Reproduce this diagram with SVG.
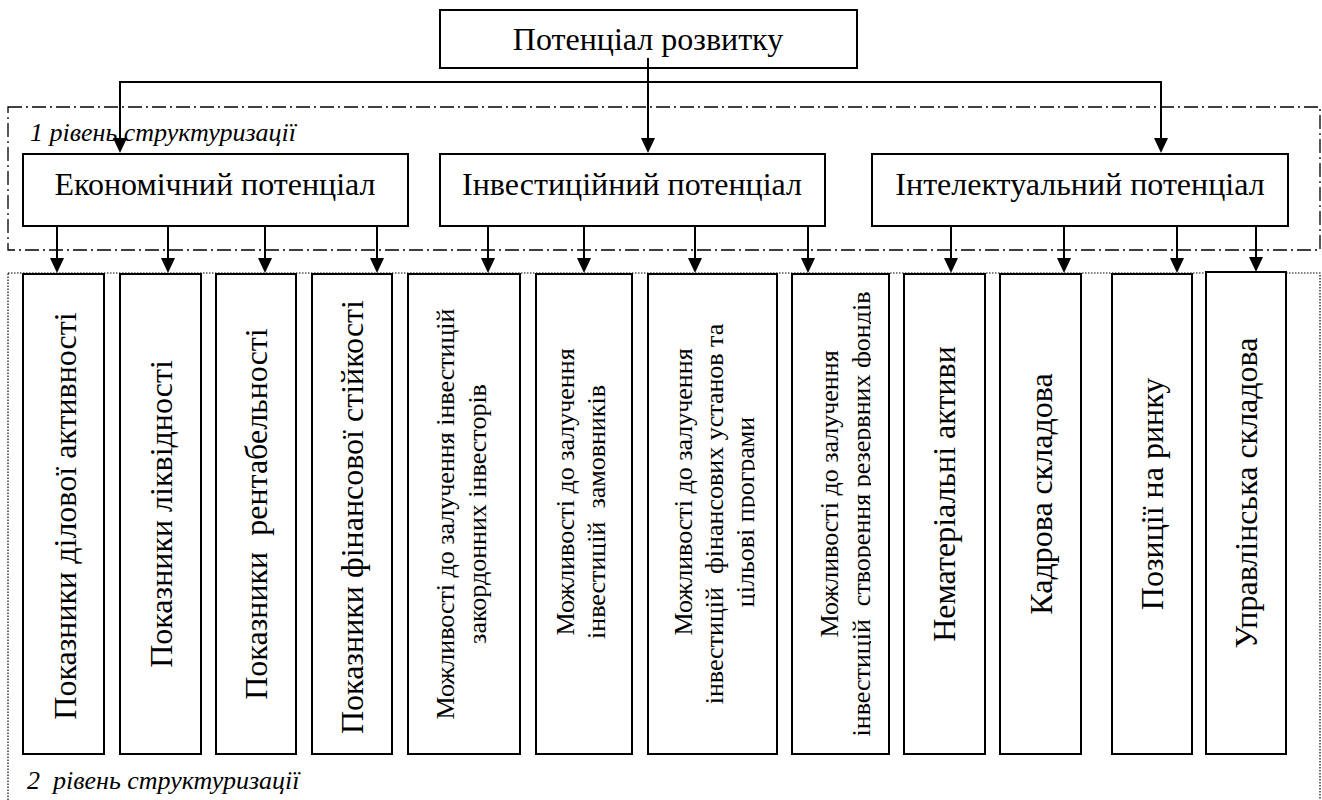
<svg xmlns="http://www.w3.org/2000/svg" width="1322" height="800" viewBox="0 0 1322 800">
<defs>
<marker id="ah" markerUnits="userSpaceOnUse" markerWidth="16" markerHeight="14" refX="5" refY="7" orient="auto" viewBox="0 0 16 14"><path d="M0,0 L15,7 L0,14 z" fill="#000"/></marker>
<clipPath id="c6"><rect x="536" y="274" width="70" height="480"/></clipPath>
<clipPath id="c7"><rect x="648" y="274" width="107" height="480"/></clipPath>
<clipPath id="c8"><rect x="792" y="274" width="79" height="480"/></clipPath>
</defs>
<style>
.box{fill:#fff;stroke:#000;stroke-width:2}
.conn{stroke:#000;stroke-width:2;fill:none}
.frame1{fill:none;stroke:#000;stroke-width:1.3;stroke-dasharray:14 4 2 4}
.frame2{fill:none;stroke:#000;stroke-width:1.2;stroke-dasharray:1.5 1.5}
</style>
<g id="frames">
<rect class="frame1" x="8" y="107" width="1312" height="143"/>
<rect class="frame2" x="8" y="273" width="1312" height="540"/>
</g>
<g id="labels" font-family="Liberation Serif, serif" font-size="26" font-style="italic" fill="#000">
<text x="30" y="141">1 рівень структуризації</text>
<text x="27" y="789" xml:space="preserve">2  рівень структуризації</text>
</g>
<g id="nodes" font-family="Liberation Serif, serif" fill="#000" text-anchor="middle">
<g id="root">
<rect class="box" x="440" y="10" width="417" height="58"/>
<text x="648" y="50" font-size="32">Потенціал розвитку</text>
</g>
<g id="econ">
<rect class="box" x="23" y="154" width="385" height="72"/>
<text x="215" y="195" font-size="32">Економічний потенціал</text>
</g>
<g id="invest">
<rect class="box" x="440" y="154" width="385" height="72"/>
<text x="632" y="195" font-size="32">Інвестиційний потенціал</text>
</g>
<g id="intel">
<rect class="box" x="872" y="154" width="416" height="72"/>
<text x="1080" y="195" font-size="32">Інтелектуальний потенціал</text>
</g>
<g id="b1"><rect class="box" x="23" y="274" width="81" height="480"/>
<text font-size="32" transform="translate(75.5,516) rotate(-90)">Показники ділової активності</text></g>
<g id="b2"><rect class="box" x="120" y="274" width="81" height="480"/>
<text font-size="32" transform="translate(172,514) rotate(-90)">Показники ліквідності</text></g>
<g id="b3"><rect class="box" x="216" y="274" width="80" height="480"/>
<text font-size="32" xml:space="preserve" transform="translate(267,514) rotate(-90)">Показники  рентабельності</text></g>
<g id="b4"><rect class="box" x="312" y="274" width="80" height="480"/>
<text font-size="32" transform="translate(363,517) rotate(-90)">Показники фінансової стійкості</text></g>
<g id="b5"><rect class="box" x="408" y="274" width="112" height="480"/>
<text font-size="26" transform="translate(454,514) rotate(-90)">Можливості до залучення інвестицій</text>
<text font-size="26" transform="translate(486,514) rotate(-90)">закордонних інвесторів</text></g>
<g id="b6"><rect class="box" x="536" y="274" width="96" height="480"/>
<g clip-path="url(#c6)">
<text font-size="26" transform="translate(574,492) rotate(-90)">Можливості до залучення</text>
<text font-size="26" xml:space="preserve" transform="translate(605,512) rotate(-90)">інвестицій  замовників</text></g></g>
<g id="b7"><rect class="box" x="648" y="274" width="129" height="480"/>
<g clip-path="url(#c7)">
<text font-size="26" transform="translate(692,492) rotate(-90)">Можливості до залучення</text>
<text font-size="26" xml:space="preserve" transform="translate(723,514) rotate(-90)">інвестицій  фінансових установ та</text>
<text font-size="26" transform="translate(754,512) rotate(-90)">цільові програми</text></g></g>
<g id="b8"><rect class="box" x="792" y="274" width="97" height="480"/>
<g clip-path="url(#c8)">
<text font-size="26" transform="translate(838,494) rotate(-90)">Можливості до залучення</text>
<text font-size="26" xml:space="preserve" transform="translate(870,514) rotate(-90)">інвестицій  створення резервних фондів</text></g></g>
<g id="b9"><rect class="box" x="904" y="274" width="81" height="480"/>
<text font-size="32" transform="translate(955,494) rotate(-90)">Нематеріальні активи</text></g>
<g id="b10"><rect class="box" x="1000" y="274" width="81" height="480"/>
<text font-size="32" transform="translate(1052,494) rotate(-90)">Кадрова складова</text></g>
<g id="b11"><rect class="box" x="1112" y="274" width="80" height="480"/>
<text font-size="32" transform="translate(1163,494) rotate(-90)">Позиції на ринку</text></g>
<g id="b12"><rect class="box" x="1206" y="272" width="80" height="482"/>
<text font-size="32" transform="translate(1257,493) rotate(-90)">Управлінська складова</text></g>
</g>
<g id="connectors">
<path class="conn" d="M648,58 V143" marker-end="url(#ah)"/>
<path class="conn" d="M648,82 H120 V143" marker-end="url(#ah)"/>
<path class="conn" d="M648,82 H1161 V143" marker-end="url(#ah)"/>
<path class="conn" d="M57,226 V263" marker-end="url(#ah)"/>
<path class="conn" d="M168,226 V263" marker-end="url(#ah)"/>
<path class="conn" d="M265,226 V263" marker-end="url(#ah)"/>
<path class="conn" d="M377,226 V263" marker-end="url(#ah)"/>
<path class="conn" d="M488,226 V263" marker-end="url(#ah)"/>
<path class="conn" d="M584,226 V263" marker-end="url(#ah)"/>
<path class="conn" d="M695,226 V263" marker-end="url(#ah)"/>
<path class="conn" d="M808,226 V263" marker-end="url(#ah)"/>
<path class="conn" d="M951,226 V263" marker-end="url(#ah)"/>
<path class="conn" d="M1064,226 V263" marker-end="url(#ah)"/>
<path class="conn" d="M1177,226 V263" marker-end="url(#ah)"/>
<path class="conn" d="M1256,226 V262" marker-end="url(#ah)"/>
</g>
</svg>
